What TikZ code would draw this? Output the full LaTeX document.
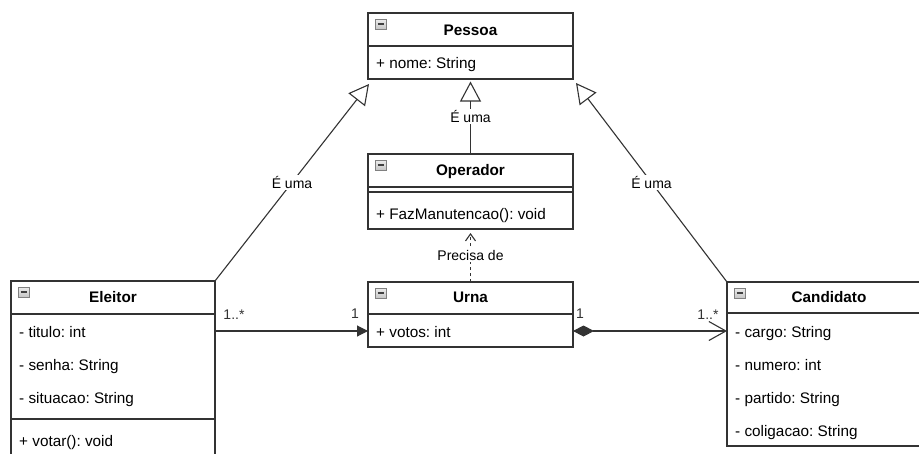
\documentclass[tikz,border=0pt]{standalone}
\usepackage{fontspec}
\setmainfont{Liberation Sans}
\usetikzlibrary{arrows.meta}
\frenchspacing
\definecolor{linec}{HTML}{333333}
\tikzset{
  box/.style={draw=linec, line width=1.2pt, fill=white, anchor=north west, inner sep=0pt, outer sep=0pt},
  sep/.style={draw=linec, line width=1.2pt},
  title/.style={anchor=base, font=\bfseries\fontsize{15.3}{18}\selectfont, inner sep=0pt},
  attr/.style={anchor=base west, font=\fontsize{15.3}{18}\selectfont, inner sep=0pt},
  lbl/.style={fill=white, inner sep=1pt, font=\fontsize{14}{16}\selectfont},
  mult/.style={anchor=base, font=\fontsize{14}{16}\selectfont, text=black!80, inner sep=0pt},
  gen/.style={draw=linec, line width=1.1pt, -{Triangle[open, length=20pt, width=21pt, fill=white]}},
  assoc/.style={draw=linec, line width=1.1pt, -{Triangle[length=11pt, width=11pt]}},
  comp/.style={draw=linec, line width=1.1pt, {Diamond[length=21pt, width=11pt]}-{Straight Barb[length=17pt, width=19pt]}},
  dep/.style={draw=linec, line width=1.1pt, dash pattern=on 3pt off 3pt, -{Straight Barb[length=7pt, width=10pt]}},
  minusicon/.pic={
    \draw[draw=gray, top color=gray!15, bottom color=gray!45, line width=0.6pt] (0,0) rectangle (11,10);
    \draw[black!75, line width=1.1pt] (2.5,5) -- (8.5,5);
  }
}
\begin{document}
\begin{tikzpicture}[x=1pt, y=-1pt]
\useasboundingbox (0,0) rectangle (919,453);
\fill[white] (0,0) rectangle (919,453);

% Pessoa
\node[box, minimum width=205pt, minimum height=66pt] (pessoa) at (368,13) {};
\draw[sep] (368,46) -- (573,46);
\pic at (375,19) {minusicon};
\node[title] (pessoaT) at (470.5,35) {Pessoa};
\node[attr] (pessoaA1) at (376,68) {+ nome: String};

% Operador
\node[box, minimum width=205pt, minimum height=75pt] (operador) at (368,154) {};
\draw[sep] (368,187) -- (573,187);
\draw[sep] (368,192) -- (573,192);
\pic at (375,160) {minusicon};
\node[title] (operadorT) at (470.5,175.5) {Operador};
\node[attr] (operadorM1) at (376,219) {+ FazManutencao(): void};

% Eleitor
\node[box, minimum width=204pt, minimum height=190pt] (eleitor) at (11,281) {};
\draw[sep] (11,314) -- (215,314);
\draw[sep] (11,419) -- (215,419);
\pic at (18,287) {minusicon};
\node[title] (eleitorT) at (113,302.5) {Eleitor};
\node[attr] (eleitorA1) at (19,337) {- titulo: int};
\node[attr] (eleitorA2) at (19,370) {- senha: String};
\node[attr] (eleitorA3) at (19,403) {- situacao: String};
\node[attr] (eleitorM1) at (19,446) {+ votar(): void};

% Urna
\node[box, minimum width=205pt, minimum height=65pt] (urna) at (368,282) {};
\draw[sep] (368,314) -- (573,314);
\pic at (375,288) {minusicon};
\node[title] (urnaT) at (470.5,302.5) {Urna};
\node[attr] (urnaA1) at (376,337) {+ votos: int};

% Candidato
\node[box, minimum width=205pt, minimum height=164pt] (candidato) at (727,282) {};
\draw[sep] (727,313) -- (932,313);
\pic at (734,288) {minusicon};
\node[title] (candidatoT) at (829,302.5) {Candidato};
\node[attr] (candidatoA1) at (735,337) {- cargo: String};
\node[attr] (candidatoA2) at (735,370) {- numero: int};
\node[attr] (candidatoA3) at (735,403) {- partido: String};
\node[attr] (candidatoA4) at (735,436) {- coligacao: String};

% Generalizations
\draw[gen] (eleitor.north east) -- ([shift={(1,5)}]pessoa.south west) node[lbl, pos=0.5] {É uma};
\draw[gen] (candidato.north west) -- ([shift={(3,4)}]pessoa.south east) node[lbl, pos=0.5] {É uma};
\draw[gen, shorten >=2.5pt] (pessoa.south |- operador.north) -- (pessoa.south) node[lbl, pos=0.5] {É uma};

% Dependency
\draw[dep, shorten >=4pt] (urna.north) -- (urna.north |- operador.south) node[lbl, pos=0.5] {Precisa de};

% Associations
\coordinate (urnaRow) at (470.5,331);
\draw[assoc] (urnaRow -| eleitor.east) -- (urnaRow -| urna.west);
\node[mult] at (234,319) {1..*};
\node[mult] at (355,318) {1};
\draw[comp] (urnaRow -| urna.east) -- (urnaRow -| candidato.west);
\node[mult] at (580,318) {1};
\node[mult] at (708,319) {1..*};
\end{tikzpicture}
\end{document}
